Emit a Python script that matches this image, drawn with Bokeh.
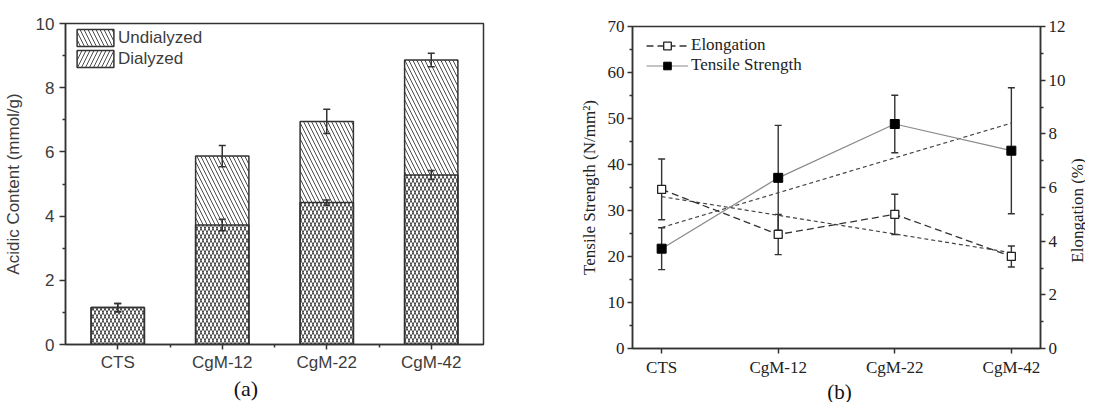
import numpy as np
from bokeh.plotting import figure
from bokeh.models import (ColumnDataSource, FixedTicker, Range1d, LinearAxis,
                          Whisker, TeeHead, Legend, LegendItem, Label)
from bokeh.layouts import row, column
from bokeh.embed import file_html
from bokeh.resources import INLINE

# ---------------- data ----------------
categories = ["CTS", "CgM-12", "CgM-22", "CgM-42"]

# Panel (a): acidic content (mmol/g)
undialyzed = [1.15, 5.87, 6.95, 8.86]
undialyzed_err = [0.13, 0.33, 0.38, 0.21]
dialyzed = [1.15, 3.72, 4.42, 5.28]
dialyzed_err = [0.13, 0.18, 0.08, 0.14]

# Panel (b): tensile strength (N/mm2) and elongation (%)
tensile = [21.7, 37.1, 48.8, 43.0]
tensile_err = [4.55, 11.4, 6.25, 13.7]
elongation = [5.93, 4.25, 5.0, 3.43]
elongation_err = [1.13, 0.75, 0.75, 0.39]
tensile_trend = [26.3, 49.0]        # linear trend at CTS and CgM-42
elongation_trend = [5.66, 3.57]

a_ticks = [0, 2, 4, 6, 8, 10]
a_minor = [1, 3, 5, 7, 9]
ts_ticks = [0, 10, 20, 30, 40, 50, 60, 70]
ts_minor = [5, 15, 25, 35, 45, 55, 65]
el_ticks = [0, 2, 4, 6, 8, 10, 12]
el_minor = [1, 3, 5, 7, 9, 11]

SANS = "Liberation Sans"
SERIF = "Liberation Serif"
TXT_A = "#3c3c3c"
TXT_B = "#222222"
LINE = "#333333"
H = 401


def text_strip(width, height, text, x, y, font, size, color, angle=0.0):
    """A blank canvas that only carries one piece of text."""
    s = figure(width=width, height=height, x_range=Range1d(0, width),
               y_range=Range1d(0, height), output_backend="svg",
               toolbar_location=None, x_axis_location=None,
               y_axis_location=None, min_border=0)
    s.xgrid.visible = False
    s.ygrid.visible = False
    s.outline_line_color = None
    s.add_layout(Label(x=x, y=y, text=text, angle=angle, text_font=font,
                       text_font_size=size, text_color=color,
                       text_align="center", text_baseline="middle"))
    return s


# ---------------- panel (a) ----------------
xa = [i + 1 for i in range(len(categories))]
src_a = ColumnDataSource(dict(
    x=xa,
    und=undialyzed,
    und_hi=[v + e for v, e in zip(undialyzed, undialyzed_err)],
    und_lo=[v - e for v, e in zip(undialyzed, undialyzed_err)],
    dia=dialyzed,
    dia_hi=[v + e for v, e in zip(dialyzed, dialyzed_err)],
    dia_lo=[v - e for v, e in zip(dialyzed, dialyzed_err)],
))

pa = figure(frame_width=418, frame_height=321,
            x_range=Range1d(0.5, 4.5), y_range=Range1d(0, 10),
            output_backend="svg", toolbar_location=None,
            min_border_left=59, min_border_right=85,
            min_border_top=23, min_border_bottom=30)
pa.xgrid.visible = False
pa.ygrid.visible = False
pa.outline_line_color = LINE
pa.outline_line_width = 1.5
pa.background_fill_color = "white"

r_und = pa.vbar(x="x", top="und", bottom=0, width=0.51, source=src_a,
                fill_color=None, line_color=LINE, line_width=1.5,
                hatch_pattern="left_diagonal_line", hatch_scale=8,
                hatch_weight=1, hatch_color="#4a4a4a")
r_dia = pa.vbar(x="x", top="dia", bottom=0, width=0.51, source=src_a,
                fill_color=None, line_color=LINE, line_width=1.5,
                hatch_pattern="right_diagonal_line", hatch_scale=8,
                hatch_weight=1, hatch_color="#4a4a4a")

for up, lo in (("und_hi", "und_lo"), ("dia_hi", "dia_lo")):
    w = Whisker(source=src_a, base="x", upper=up, lower=lo,
                line_color=LINE, line_width=1.5, level="annotation",
                upper_head=TeeHead(size=7, line_color=LINE, line_width=1.5),
                lower_head=TeeHead(size=7, line_color=LINE, line_width=1.5))
    pa.add_layout(w)

pa.xaxis.ticker = FixedTicker(ticks=xa, minor_ticks=[1.5, 2.5, 3.5])
pa.xaxis.major_label_overrides = {x: c for x, c in zip(xa, categories)}
pa.yaxis.ticker = FixedTicker(ticks=a_ticks, minor_ticks=a_minor)
pa.yaxis.axis_label = "Acidic Content (mmol/g)"
for ax in (pa.xaxis[0], pa.yaxis[0]):
    ax.axis_line_color = LINE
    ax.axis_line_width = 1.5
    ax.major_tick_line_color = LINE
    ax.major_tick_line_width = 1.5
    ax.minor_tick_line_color = LINE
    ax.minor_tick_line_width = 1.5
    ax.major_tick_in = 0
    ax.major_tick_out = 6
    ax.minor_tick_in = 0
    ax.minor_tick_out = 3
    ax.major_label_text_font = SANS
    ax.major_label_text_font_size = "17px"
    ax.major_label_text_color = TXT_A
    ax.axis_label_text_font = SANS
    ax.axis_label_text_font_size = "17px"
    ax.axis_label_text_font_style = "normal"
    ax.axis_label_text_color = TXT_A
pa.xaxis.major_tick_out = 5
pa.xaxis.major_label_standoff = 3
pa.yaxis.major_label_standoff = 5
pa.yaxis.axis_label_standoff = 10

leg_a = Legend(items=[LegendItem(label="Undialyzed", renderers=[r_und]),
                      LegendItem(label="Dialyzed", renderers=[r_dia])],
               location=(7, 275), orientation="vertical",
               glyph_width=46, glyph_height=21, label_height=21,
               spacing=0, padding=0, margin=0, label_standoff=0,
               border_line_color=None, background_fill_alpha=0,
               label_text_font=SANS, label_text_font_size="17px",
               label_text_color=TXT_A)
pa.add_layout(leg_a)

WA = 59 + 418 + 85
HA = 23 + 321 + 30
strip_a = text_strip(WA, H - HA, "(a)", 246, (H - HA) - 14, SERIF, "22px",
                     "#111111")

# ---------------- panel (b) ----------------
xb = list(range(len(categories)))
src_b = ColumnDataSource(dict(
    x=xb,
    ts=tensile,
    ts_hi=[v + e for v, e in zip(tensile, tensile_err)],
    ts_lo=[v - e for v, e in zip(tensile, tensile_err)],
    el=elongation,
    el_hi=[v + e for v, e in zip(elongation, elongation_err)],
    el_lo=[v - e for v, e in zip(elongation, elongation_err)],
))

pb = figure(frame_width=408, frame_height=322,
            x_range=Range1d(-0.25, 3.25), y_range=Range1d(0, 70),
            output_backend="svg", toolbar_location=None,
            min_border_left=64, min_border_right=26,
            min_border_top=26, min_border_bottom=30)
pb.extra_y_ranges = {"el": Range1d(0, 12)}
pb.xgrid.visible = False
pb.ygrid.visible = False
pb.outline_line_color = LINE
pb.outline_line_width = 1.5

# trend lines
trend_x = [xb[0], xb[-1]]
pb.line(trend_x, tensile_trend, line_color="#444444", line_width=1.2,
        line_dash="4 3")
pb.line(trend_x, elongation_trend, y_range_name="el", line_color="#444444",
        line_width=1.2, line_dash="4 3")

# error bars
pb.add_layout(Whisker(source=src_b, base="x", upper="ts_hi", lower="ts_lo",
                      line_color=LINE, line_width=1.4,
                      upper_head=TeeHead(size=7, line_color=LINE, line_width=1.4),
                      lower_head=TeeHead(size=7, line_color=LINE, line_width=1.4)))
pb.add_layout(Whisker(source=src_b, base="x", upper="el_hi", lower="el_lo",
                      y_range_name="el",
                      line_color=LINE, line_width=1.4,
                      upper_head=TeeHead(size=7, line_color=LINE, line_width=1.4),
                      lower_head=TeeHead(size=7, line_color=LINE, line_width=1.4)))

ts_line = pb.line("x", "ts", source=src_b, line_color="#8a8a8a", line_width=1.2)
el_line = pb.line("x", "el", source=src_b, y_range_name="el",
                  line_color="#333333", line_width=1.3, line_dash="7 4")
ts_sc = pb.scatter("x", "ts", source=src_b, marker="square", size=9,
                   fill_color="black", line_color="black")
el_sc = pb.scatter("x", "el", source=src_b, y_range_name="el",
                   marker="square", size=8, fill_color="white",
                   line_color="#222222", line_width=1.3)

pb.xaxis.ticker = FixedTicker(ticks=xb, minor_ticks=[])
pb.xaxis.major_label_overrides = {x: c for x, c in zip(xb, categories)}
pb.yaxis.ticker = FixedTicker(ticks=ts_ticks, minor_ticks=ts_minor)
pb.yaxis.axis_label = "Tensile Strength (N/mm²)"

ax_r = LinearAxis(y_range_name="el",
                  ticker=FixedTicker(ticks=el_ticks, minor_ticks=el_minor))
pb.add_layout(ax_r, "right")

for ax in (pb.xaxis[0], pb.yaxis[0], ax_r):
    ax.axis_line_color = LINE
    ax.axis_line_width = 1.5
    ax.major_tick_line_color = LINE
    ax.major_tick_line_width = 1.5
    ax.minor_tick_line_color = LINE
    ax.minor_tick_line_width = 1.5
    ax.major_tick_in = 0
    ax.major_tick_out = 5
    ax.minor_tick_in = 0
    ax.minor_tick_out = 3
    ax.major_label_standoff = 3
    ax.major_label_text_font = SERIF
    ax.major_label_text_font_size = "17px"
    ax.major_label_text_color = TXT_B
    ax.axis_label_text_font = SERIF
    ax.axis_label_text_font_size = "17px"
    ax.axis_label_text_font_style = "normal"
    ax.axis_label_text_color = TXT_B
pb.yaxis[0].axis_label_standoff = 6
pb.xaxis.major_label_standoff = 4

leg_b = Legend(items=[LegendItem(label="Elongation", renderers=[el_line, el_sc]),
                      LegendItem(label="Tensile Strength", renderers=[ts_line, ts_sc])],
               location=(14, 273), orientation="vertical",
               glyph_width=42, glyph_height=19, label_height=19,
               spacing=0, padding=0, margin=0, label_standoff=3,
               border_line_color=None, background_fill_alpha=0,
               label_text_font=SERIF, label_text_font_size="17px",
               label_text_color=TXT_B)
pb.add_layout(leg_b)

WB = 64 + 408 + 26
HB = 26 + 322 + 30
strip_b = text_strip(WB, H - HB, "(b)", 254, (H - HB) - 12, SERIF, "21px",
                     "#111111")

# right-axis title, reading bottom to top
strip_c = text_strip(17, H, "Elongation (%)", 8.5, H - 210, SERIF, "17px",
                     TXT_B, angle=np.pi / 2)

layout = row(column(pa, strip_a), column(pb, strip_b), strip_c)
open("out.html", "w").write(file_html(layout, INLINE))
